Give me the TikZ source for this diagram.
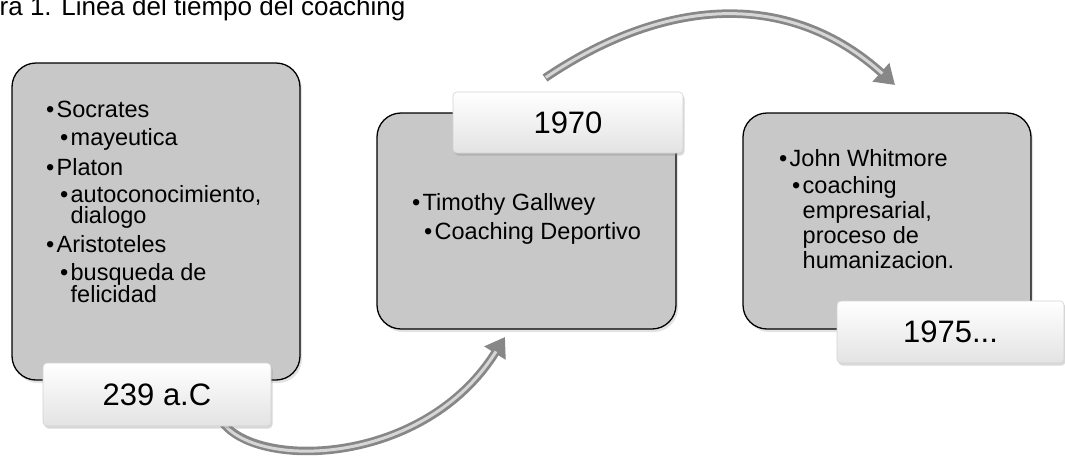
\documentclass[tikz,border=0pt]{standalone}
\usepackage{fontspec}
\setmainfont{Liberation Sans}
\usetikzlibrary{arrows.meta,shadows}
\definecolor{panelgray}{HTML}{C8C8C8}
\definecolor{arrowdark}{HTML}{878787}
\definecolor{arrowlight}{HTML}{D6D6D6}
\newcommand\bl{\makebox[10.5pt][l]{\textbullet}}
\newcommand\ind{\hspace*{10.5pt}}
\newcommand\lines[2]{\parbox[t]{260pt}{\fontsize{23.5}{#1}\selectfont\lineskiplimit=-100pt\raggedright #2}}
\tikzset{
  panel/.style={draw=black, line width=1.3pt, fill=panelgray, rounded corners=24pt,
    inner sep=0pt, drop shadow={shadow xshift=2pt, shadow yshift=-3pt, opacity=0.22}},
  tag/.style={draw=gray!35, line width=0.6pt, rounded corners=4pt, top color=white,
    bottom color=gray!22, inner sep=0pt, font=\fontsize{31}{31}\selectfont,
    drop shadow={shadow xshift=1.5pt, shadow yshift=-2.5pt, opacity=0.3}},
  item/.style={anchor=base west, inner sep=0pt, font=\fontsize{23.5}{21}\selectfont},
  arrowout/.style={draw=arrowdark, line width=8.5pt,
    -{Triangle[width=24pt,length=19pt]}},
  arrowin/.style={draw=arrowlight, line width=3pt, shorten >=17pt, shorten <=1pt},
}
\begin{document}
\begin{tikzpicture}[x=1pt,y=-1pt]
\useasboundingbox (0,0) rectangle (1065,456);

% caption (cut at the top edge)
\begin{scope}
\clip (0,0) rectangle (1065,456);
\node[anchor=base west, inner sep=0pt, font=\fontsize{26}{26}\selectfont] (cap) at (-0.5,15)
  {ra 1. Linea del tiempo del coaching};
\end{scope}

% connector end points
\coordinate (a1s) at (223,423);
\coordinate (a1e) at (505,337);
\coordinate (a2s) at (545,78);
\coordinate (a2e) at (895,85);

% curved arrows
\draw[arrowout] (a1s) .. controls (260,470) and (425,465) .. (a1e);
\draw[arrowin]  (a1s) .. controls (260,470) and (425,465) .. (a1e);
\draw[arrowout] (a2s) .. controls (671,-7) and (793,-7) .. (a2e);
\draw[arrowin]  (a2s) .. controls (671,-7) and (793,-7) .. (a2e);

% panels
\node[panel, minimum width=288pt, minimum height=317pt] (p1) at (156,221.5) {};
\node[panel, minimum width=299pt, minimum height=216pt] (p2) at (526.5,221) {};
\node[panel, minimum width=288pt, minimum height=216pt] (p3) at (887,221) {};

% panel 1 text
\node[item] (t11) at (46,117) {\bl Socrates};
\node[item] (t12) at (60,145) {\bl mayeutica};
\node[item] (t13) at (46,175) {\bl Platon};
\node[item] (t14) at (60,202) {\lines{21pt}{\bl autoconocimiento,\\\ind dialogo}};
\node[item] (t16) at (46,252) {\bl Aristoteles};
\node[item] (t17) at (60,280) {\lines{22pt}{\bl busqueda de\\\ind felicidad}};

% panel 2 text
\node[item] (t21) at (412,210) {\bl Timothy Gallwey};
\node[item] (t22) at (424,239) {\bl Coaching Deportivo};

% panel 3 text
\node[item] (t31) at (779,166) {\bl John Whitmore};
\node[item] (t32) at (792,193) {\lines{25pt}{\bl coaching\\\ind empresarial,\\\ind proceso de\\\ind humanizacion.}};

% date tags
\node[tag, minimum width=228pt, minimum height=63pt] (l1) at (157,394.5) {239 a.C};
\node[tag, minimum width=230pt, minimum height=61pt] (l2) at (568,122.5) {1970};
\node[tag, minimum width=227pt, minimum height=62pt] (l3) at (950.5,332) {1975...};
\end{tikzpicture}
\end{document}
